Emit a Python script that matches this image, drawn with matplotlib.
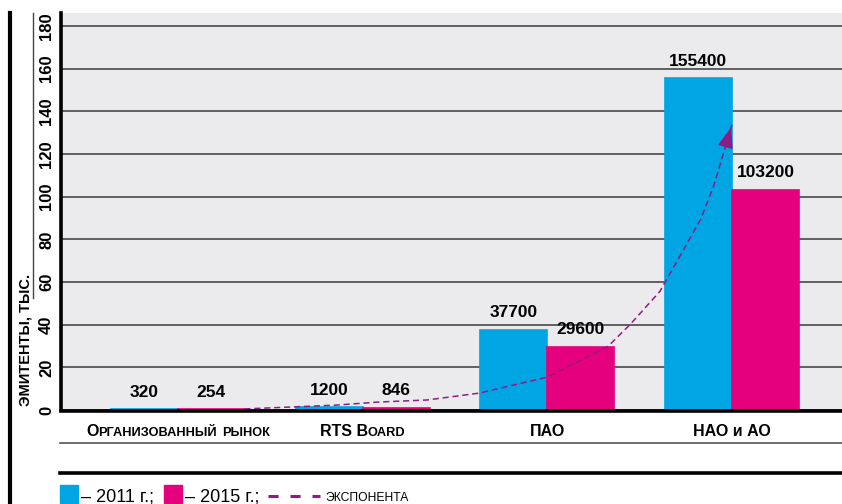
import matplotlib

matplotlib.use("Agg")

import matplotlib.pyplot as plt
import matplotlib.transforms as mtransforms
import numpy as np
from matplotlib.lines import Line2D
from matplotlib.patches import Rectangle

# data (thousands of issuers)
categories = ["Организованный рынок", "RTS Board", "ПАО", "НАО и АО"]
small_caps = [True, True, False, False]
values_2011 = [0.32, 1.2, 37.7, 155.4]
values_2015 = [0.254, 0.846, 29.6, 103.2]
labels_2011 = ["320", "1200", "37700", "155400"]
labels_2015 = ["254", "846", "29600", "103200"]
y_ticks = [0, 20, 40, 60, 80, 100, 120, 140, 160, 180]

# exponential trend line
trend_x = [0.36, 0.86, 1.08, 1.35, 1.63, 2.00, 2.33, 2.45, 2.61, 2.73, 2.83, 2.90, 2.96, 3.00]
trend_y = [0.5, 2.3, 3.7, 4.7, 7.9, 15.4, 29.9, 40.2, 55.6, 73.9, 89.3, 104.7, 122.0, 133.7]

BLUE = "#00a5e3"
PINK = "#e5007d"
PURPLE = "#8e1b86"
PANEL = "#ebebed"
NARROW = ["Liberation Sans Narrow", "Liberation Sans", "DejaVu Sans"]
SANS = ["Liberation Sans", "DejaVu Sans"]

W, H = 842, 504


def fx(px):
    return px / W


def fy(py):
    return 1 - py / H


def caps_parts(label, big, small):
    parts = []
    for ch in label:
        size = small if ch.islower() else big
        if parts and parts[-1][1] == size:
            parts[-1][0] += ch.upper()
        else:
            parts.append([ch.upper(), size])
    return parts


def centered_runs(fig, ax, x, y, parts):
    renderer = fig.canvas.get_renderer()
    base = ax.get_xaxis_transform()
    texts = [
        ax.text(x, y, s, fontsize=size, fontweight="bold", family=NARROW,
                ha="left", va="baseline", transform=base)
        for s, size in parts
    ]
    widths = [t.get_window_extent(renderer).width for t in texts]
    offset = -sum(widths) / 2
    for t, w in zip(texts, widths):
        shift = mtransforms.ScaledTranslation(offset / fig.dpi, 0, fig.dpi_scale_trans)
        t.set_transform(base + shift)
        offset += w


fig = plt.figure(figsize=(W / 100, H / 100), dpi=100)
ax = fig.add_axes([fx(61), fy(410), (W - 61) / W, (410 - 13) / H])
ax.set_facecolor(PANEL)

x = np.arange(len(categories))
width = 0.363
bars_2011 = ax.bar(x - width / 2, values_2011, width, color=BLUE,
                   edgecolor=BLUE, lw=1.2, zorder=3)
bars_2015 = ax.bar(x + width / 2, values_2015, width, color=PINK,
                   edgecolor=PINK, lw=1.2, zorder=3)

for bars, labels in ((bars_2011, labels_2011), (bars_2015, labels_2015)):
    for bar, text in zip(bars, labels):
        ax.annotate(text, (bar.get_x() + bar.get_width() / 2, bar.get_height()),
                    xytext=(0, 7), textcoords="offset points", ha="center", va="bottom",
                    fontsize=12.5, fontweight="bold", family=SANS, zorder=5)

ax.plot(trend_x, trend_y, color=PURPLE, lw=1.1, ls=(0, (4, 2.5)), zorder=4)
ax.annotate("", xy=(trend_x[-1], trend_y[-1]), xytext=(trend_x[-2], trend_y[-2]),
            arrowprops=dict(arrowstyle="-|>,head_length=0.8,head_width=0.3",
                            color=PURPLE, lw=1, mutation_scale=16), zorder=4)

ax.set_xlim(-0.633, 3.596)
ax.set_ylim(0, 186.1)
ax.set_yticks(y_ticks)
ax.set_xticks(x)
ax.set_xticklabels([""] * len(categories))
ax.yaxis.grid(True, color="#3a3a3a", lw=1.1)
ax.set_axisbelow(True)
ax.tick_params(axis="x", length=0)
ax.tick_params(axis="y", length=0, pad=5, labelrotation=90, labelsize=12)
for label in ax.get_yticklabels():
    label.set_fontweight("bold")
    label.set_family(SANS)
    label.set_va("center")

for side in ("top", "right"):
    ax.spines[side].set_visible(False)
for side in ("left", "bottom"):
    ax.spines[side].set_linewidth(2.6)
    ax.spines[side].set_color("black")
    ax.spines[side].set_zorder(6)
ax.spines["bottom"].set_position(("outward", 1))

for xi, name, caps in zip(x, categories, small_caps):
    if caps:
        parts = caps_parts(name, 11.5, 9.2)
    else:
        parts = [[name, 11.5]]
    centered_runs(fig, ax, xi, -26 / 397, parts)

fig.text(fx(26), fy(406), "ЭМИТЕНТЫ, ТЫС.", rotation=90, ha="center", va="bottom",
         fontsize=10.5, fontweight="bold", family=NARROW)

# frame lines
fig.add_artist(Line2D([fx(10), fx(10)], [fy(13), fy(504)], lw=3, color="black"))
fig.add_artist(Line2D([fx(33), fx(33)], [fy(13), fy(298)], lw=1, color="#444444"))
fig.add_artist(Line2D([fx(60), fx(842)], [fy(443), fy(443)], lw=1.2, color="#555555"))
fig.add_artist(Line2D([fx(60), fx(842)], [fy(473), fy(473)], lw=2.6, color="black"))

# legend
fig.add_artist(Rectangle((fx(60), fy(503)), 18 / W, 18 / H, color=BLUE, transform=fig.transFigure))
fig.text(fx(81), fy(501), "– 2011 г.;", fontsize=13, family=SANS, va="baseline")
fig.add_artist(Rectangle((fx(164), fy(503)), 18 / W, 18 / H, color=PINK, transform=fig.transFigure))
fig.text(fx(185), fy(501), "– 2015 г.;", fontsize=13, family=SANS, va="baseline")
legend_line = Line2D([fx(268), fx(320)], [fy(496), fy(496)], lw=2.2, color=PURPLE)
legend_line.set_dashes((3.3, 3.9))
fig.add_artist(legend_line)
fig.text(fx(325), fy(501), "ЭКСПОНЕНТА", fontsize=8.7, family=SANS, va="baseline")

fig.savefig("out.png", dpi=100)
plt.close(fig)
